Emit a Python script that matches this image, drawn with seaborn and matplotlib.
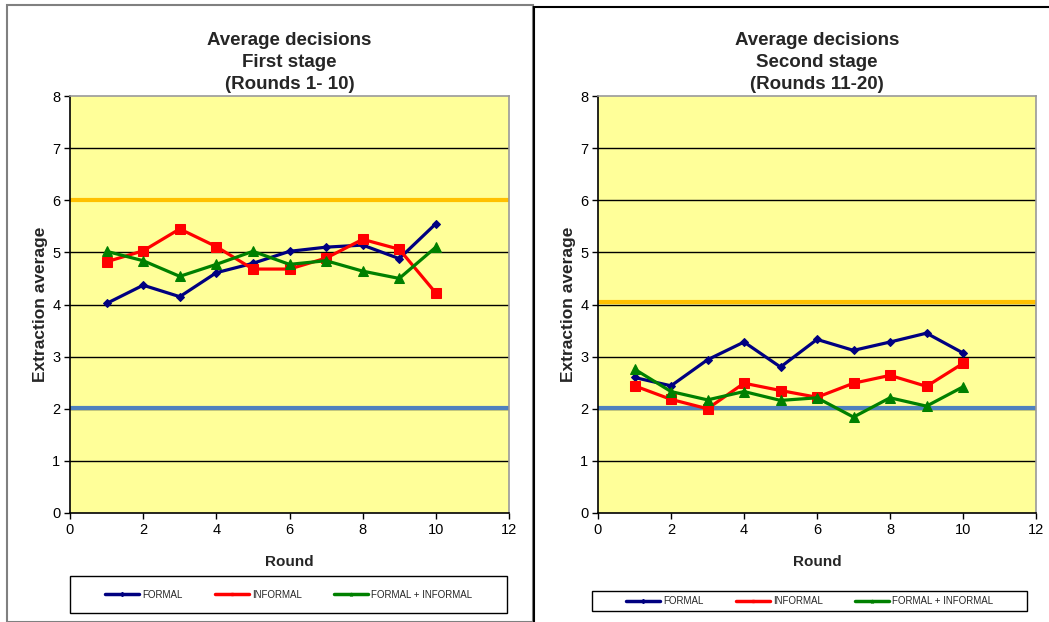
import matplotlib
matplotlib.use("Agg")
import matplotlib.pyplot as plt
from matplotlib.patches import Rectangle
from matplotlib.lines import Line2D
import numpy as np
import pandas as pd
import seaborn as sns

rounds = [1, 2, 3, 4, 5, 6, 7, 8, 9, 10]

# Stage 1 (rounds 1-10)
formal_1 = [4.02, 4.37, 4.15, 4.61, 4.79, 5.02, 5.10, 5.14, 4.88, 5.55]
informal_1 = [4.82, 5.03, 5.45, 5.11, 4.68, 4.68, 4.89, 5.25, 5.06, 4.22]
both_1 = [5.02, 4.84, 4.54, 4.77, 5.02, 4.77, 4.84, 4.64, 4.50, 5.10]

# Stage 2 (rounds 11-20)
formal_2 = [2.60, 2.44, 2.94, 3.28, 2.80, 3.33, 3.12, 3.28, 3.45, 3.07]
informal_2 = [2.44, 2.18, 2.00, 2.49, 2.35, 2.22, 2.49, 2.64, 2.43, 2.87]
both_2 = [2.76, 2.33, 2.17, 2.33, 2.16, 2.21, 1.84, 2.21, 2.05, 2.42]

series_names = ["FORMAL", "INFORMAL", "FORMAL + INFORMAL"]
upper_ref = [6.0, 4.04]
lower_ref = [2.02, 2.02]
titles = ["Average decisions\nFirst stage\n(Rounds 1- 10)",
          "Average decisions\nSecond stage\n(Rounds 11-20)"]

colors = {"FORMAL": "#000080", "INFORMAL": "#FF0000", "FORMAL + INFORMAL": "#008000"}
markers = {"FORMAL": "D", "INFORMAL": "s", "FORMAL + INFORMAL": "^"}
msizes = {"FORMAL": 4, "INFORMAL": 6.5, "FORMAL + INFORMAL": 7}

sns.set_style("white")
plt.rcParams["font.family"] = ["Liberation Sans", "DejaVu Sans"]

W, H = 1049, 622
fig = plt.figure(figsize=(W / 100, H / 100), dpi=100)

# Panel frames
fig.add_artist(Rectangle((7 / W, 0), (533 - 7) / W, (H - 5) / H, transform=fig.transFigure,
                         fill=False, edgecolor="#808080", lw=1.5))
fig.add_artist(Rectangle((534 / W, -0.01), 0.5, (H - 7) / H + 0.01, transform=fig.transFigure,
                         fill=False, edgecolor="black", lw=1.5))

panels = [
    dict(left=70, right=509, data=[formal_1, informal_1, both_1],
         leg=(70, 576, 507, 613)),
    dict(left=598, right=1036, data=[formal_2, informal_2, both_2],
         leg=(592, 591, 1027, 611)),
]

for i, p in enumerate(panels):
    top, bottom = 96, 513
    ax = fig.add_axes([p["left"] / W, (H - bottom) / H,
                       (p["right"] - p["left"]) / W, (bottom - top) / H])
    ax.set_facecolor("#FFFF99")

    df = pd.DataFrame({
        "Round": rounds * 3,
        "value": sum(p["data"], []),
        "series": sum([[n] * len(rounds) for n in series_names], []),
    })

    for y in range(1, 8):
        ax.axhline(y, color="black", lw=1, zorder=1)
    ax.axhline(upper_ref[i], color="#FFC000", lw=3, zorder=2)
    ax.axhline(lower_ref[i], color="#4F81BD", lw=3, zorder=2)

    for name in series_names:
        sub = df[df["series"] == name]
        sns.lineplot(data=sub, x="Round", y="value", ax=ax, color=colors[name],
                     marker=markers[name], markersize=msizes[name],
                     markeredgecolor=colors[name], lw=2.3, zorder=3,
                     legend=False)

    ax.set_xlim(0, 12)
    ax.set_ylim(0, 8)
    ax.set_xticks(range(0, 13, 2))
    ax.set_yticks(range(0, 9))
    ax.tick_params(axis="both", direction="out", length=4, width=1, color="black",
                   labelsize=10.5, labelcolor="black", pad=3)
    ax.tick_params(axis="y", left=True)
    ax.tick_params(axis="x", bottom=True)
    for s in ["left", "bottom"]:
        ax.spines[s].set_color("black")
        ax.spines[s].set_linewidth(1.2)
    for s in ["top", "right"]:
        ax.spines[s].set_color("#999999")
        ax.spines[s].set_linewidth(1.2)

    ax.set_xlabel("Round", fontsize=11, fontweight="bold", labelpad=13)
    ax.set_ylabel("Extraction average", fontsize=12.5, fontweight="bold", labelpad=3)
    ax.set_title(titles[i], fontsize=13.5, fontweight="bold", linespacing=1.38, pad=5)

    # Legend box below the plot
    x0, y0, x1, y1 = p["leg"]
    fig.add_artist(Rectangle((x0 / W, (H - y1) / H), (x1 - x0) / W, (y1 - y0) / H,
                             transform=fig.transFigure, fill=False,
                             edgecolor="black", lw=1.0))
    handles = [Line2D([0], [0], color=colors[n], lw=2.5, marker=markers[n], markersize=2)
               for n in series_names]
    ax.legend(handles, series_names, ncol=3, loc="center",
              bbox_to_anchor=((x0 + x1) / 2 / W, (H - (y0 + y1) / 2) / H),
              bbox_transform=fig.transFigure, fontsize=7, frameon=False,
              handlelength=3.5, handletextpad=0.3, columnspacing=3.3,
              borderpad=0, borderaxespad=0)

fig.savefig("out.png", dpi=100)
